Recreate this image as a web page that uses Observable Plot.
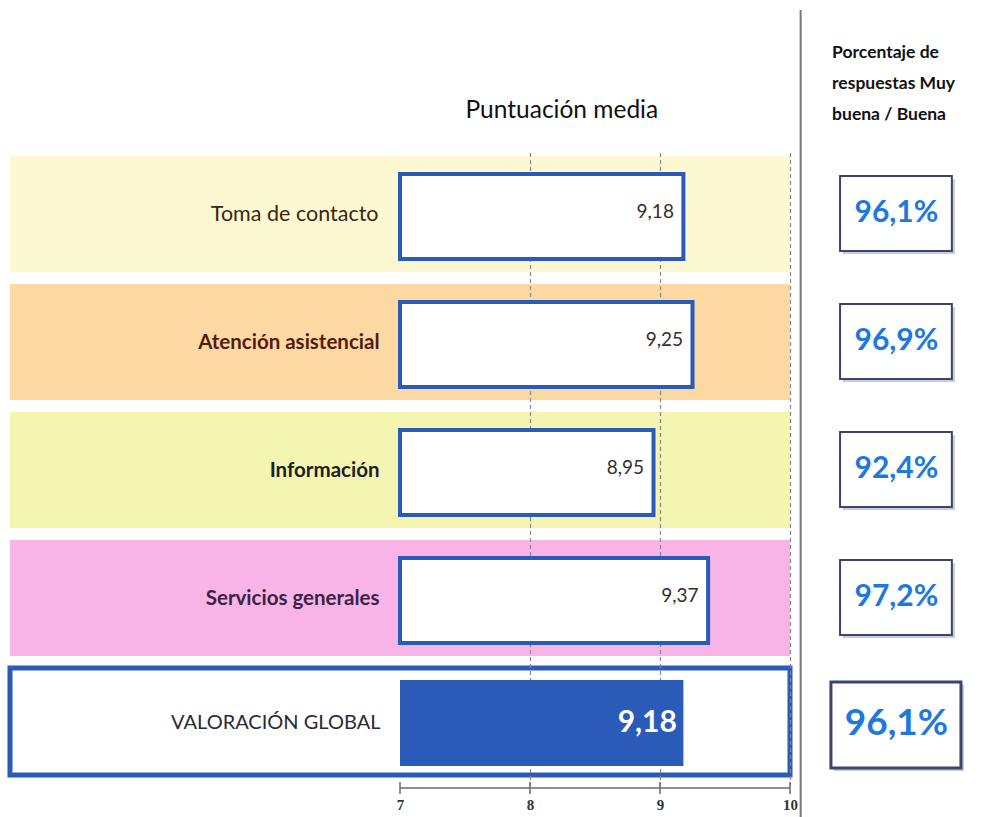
<!DOCTYPE html>
<html><head><meta charset="utf-8">
<script src="https://cdn.jsdelivr.net/npm/d3@7"></script>
<script src="https://cdn.jsdelivr.net/npm/@observablehq/plot@0.6"></script>
<style>body{margin:0;background:#fff}</style>
</head><body><div id="chart"></div>
<script>
// ---- data ----
const categories = ["Toma de contacto", "Atención asistencial", "Información", "Servicios generales", "VALORACIÓN GLOBAL"];
const scores = [9.18, 9.25, 8.95, 9.37, 9.18];
const percents = [96.1, 96.9, 92.4, 97.2, 96.1];
const xTicks = [7, 8, 9, 10];
const title = "Puntuación media";
const pctHeader = "Porcentaje de\nrespuestas Muy\nbuena / Buena";

// ---- styles ----
const bandPalette = ["#fcf9d2", "#fcd9a3", "#f3f5b0", "#f8b4e6", "#ffffff"];
const labelPalette = ["#3e2412", "#561a0c", "#1e1e24", "#3a2346", "#2a2a38"];
const blue = "#2a5bb8";
const font = 'Lato, "Open Sans", sans-serif';

const rows = categories.map((c, i) => ({category: c, score: scores[i], pct: percents[i], i, global: i === categories.length - 1}));
const areas = rows.filter(d => !d.global);
const glob = rows.filter(d => d.global);
const firstRow = rows.filter(d => d.i === 0);
const boldRows = rows.filter(d => d.i > 0 && !d.global);

const X_MIN = 4, X_BAR = 7, X_MAX = 10, PCT_X = 10.815, SEP_X = 10.078;
const fmt = v => v.toFixed(2).replace(".", ",");
const pfmt = v => v.toFixed(1).replace(".", ",") + "%";

const axisLine = (index, scales, values, dims) => {
  const g = d3.create("svg:g").attr("stroke", "#6a6a6a").attr("stroke-width", 1.5);
  const y0 = dims.height - dims.marginBottom + 2;
  g.append("line").attr("x1", scales.x(xTicks[0])).attr("x2", scales.x(xTicks[xTicks.length - 1]))
    .attr("y1", y0).attr("y2", y0);
  for (const t of xTicks) {
    g.append("line").attr("x1", scales.x(t)).attr("x2", scales.x(t)).attr("y1", y0 - 6).attr("y2", y0 + 6);
  }
  return g.node();
};

const chart = Plot.plot({
  width: 985, height: 817,
  marginTop: 153, marginBottom: 31, marginLeft: 10, marginRight: 0,
  style: {fontFamily: font, background: "#fff"},
  x: {domain: [X_MIN, 11.5], axis: null, label: null},
  y: {domain: categories, axis: null, paddingInner: 0.095, paddingOuter: 0.01},
  marks: [
    // coloured bands
    Plot.barX(areas, {x1: X_MIN, x2: X_MAX, y: "category", fill: d => bandPalette[d.i]}),
    // global box
    Plot.barX(glob, {x1: X_MIN, x2: X_MAX, y: "category", fill: "#fff", stroke: blue, strokeWidth: 5, insetBottom: 9}),
    // dashed gridlines
    Plot.ruleX(xTicks.slice(1), {stroke: "#8a8a8a", strokeDasharray: "4,3", strokeWidth: 1.2}),
    // bars
    Plot.barX(areas, {x1: X_BAR, x2: "score", y: "category", fill: "#fff", stroke: blue, strokeWidth: 4, insetTop: 18, insetBottom: 13}),
    Plot.barX(glob, {x1: X_BAR, x2: "score", y: "category", fill: blue, insetTop: 12, insetBottom: 18}),
    // values
    Plot.text(areas, {x: "score", y: "category", text: d => fmt(d.score), textAnchor: "end", dx: -10, dy: -3, fontSize: 19, fill: "#3b2b2b"}),
    Plot.text(glob, {x: "score", y: "category", text: d => fmt(d.score), textAnchor: "end", dx: -7, dy: -4, fontSize: 30, fontWeight: "bold", fill: "#fff"}),
    // category labels
    Plot.text(firstRow, {x: X_BAR, y: "category", text: "category", textAnchor: "end", dx: -22, fontSize: 21.5, fill: labelPalette[0]}),
    Plot.text(glob, {x: X_BAR, y: "category", text: "category", textAnchor: "end", dx: -20, dy: -4, fontSize: 20, fill: labelPalette[4]}),
    Plot.text(boldRows, {x: X_BAR, y: "category", text: "category", textAnchor: "end", dx: -21, fontSize: 20.5, fontWeight: "bold", fill: d => labelPalette[d.i]}),
    // axis
    axisLine,
    Plot.axisX(xTicks, {tickSize: 0, tickPadding: 13, tickFormat: d => String(d), label: null, fontSize: 15, fontWeight: "bold", fontFamily: '"Liberation Serif", serif', fill: "#333"}),
    // separator
    Plot.ruleX([SEP_X], {stroke: "#777", strokeWidth: 2, insetTop: -143, insetBottom: -31}),
    // percent boxes
    Plot.barX(areas, {x1: PCT_X - 0.43, x2: PCT_X + 0.43, y: "category", fill: "#c9cbd6", dx: 3, dy: 3, insetTop: 20, insetBottom: 21}),
    Plot.barX(areas, {x1: PCT_X - 0.43, x2: PCT_X + 0.43, y: "category", fill: "#fff", stroke: "#3a4470", strokeWidth: 2, insetTop: 20, insetBottom: 21}),
    Plot.barX(glob, {x1: PCT_X - 0.5, x2: PCT_X + 0.5, y: "category", fill: "#c9cbd6", dx: 3, dy: 3, insetTop: 14, insetBottom: 16}),
    Plot.barX(glob, {x1: PCT_X - 0.5, x2: PCT_X + 0.5, y: "category", fill: "#fff", stroke: "#3a4470", strokeWidth: 3, insetTop: 14, insetBottom: 16}),
    Plot.text(areas, {x: PCT_X, y: "category", text: d => pfmt(d.pct), fontSize: 30, fontWeight: "bold", fill: "#1f78dc", dy: -2}),
    Plot.text(glob, {x: PCT_X, y: "category", text: d => pfmt(d.pct), fontSize: 37, fontWeight: "bold", fill: "#1f78dc", dy: -3}),
    // titles
    Plot.text([title], {x: X_BAR + 0.5, frameAnchor: "top", textAnchor: "start", lineAnchor: "middle", dy: -43, fontSize: 24.5, fill: "#111"}),
    Plot.text([pctHeader], {x: 10.32, frameAnchor: "top", textAnchor: "start", lineAnchor: "top", dy: -118, fontSize: 17.5, fontWeight: "bold", lineHeight: 1.78, fill: "#111"})
  ]
});
document.getElementById("chart").appendChild(chart);
</script>
</body></html>
